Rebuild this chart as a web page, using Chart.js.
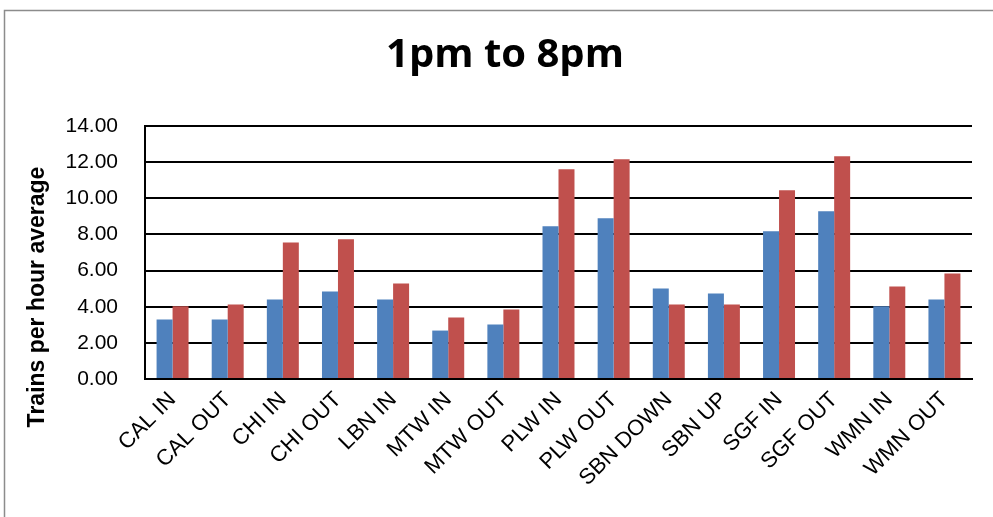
<!DOCTYPE html>
<html>
<head>
<meta charset="utf-8">
<script src="https://cdn.jsdelivr.net/npm/chart.js@4.4.1/dist/chart.umd.min.js"></script>
<style>
  html, body { margin: 0; padding: 0; background: #fff; }
  #wrap { position: relative; width: 993px; height: 517px; }
</style>
</head>
<body>
<div id="wrap"><canvas id="chart1" width="993" height="517"></canvas></div>
<script>
// categories and values
var categories = ["CAL IN", "CAL OUT", "CHI IN", "CHI OUT", "LBN IN", "MTW IN", "MTW OUT",
                  "PLW IN", "PLW OUT", "SBN DOWN", "SBN UP", "SGF IN", "SGF OUT", "WMN IN", "WMN OUT"];
var blueValues = [3.29, 3.29, 4.40, 4.84, 4.40, 2.68, 3.01, 8.45, 8.89, 5.01, 4.73, 8.17, 9.28, 4.03, 4.40];
var redValues  = [4.03, 4.12, 7.56, 7.73, 5.29, 3.40, 3.84, 11.61, 12.16, 4.12, 4.12, 10.44, 12.33, 5.12, 5.84];
var titleText = "1pm to 8pm";
var yTitleText = "Trains per hour average";

// outer frame + rotated y title
var framePlugin = {
    id: 'frame',
    beforeDraw: function(chart) {
        var ctx = chart.ctx;
        ctx.save();
        ctx.fillStyle = "#fff";
        ctx.fillRect(0, 0, chart.width, chart.height);
        ctx.strokeStyle = "#8c8c8c";
        ctx.lineWidth = 1.5;
        ctx.strokeRect(4.5, 10.5, 1100, 700);
        ctx.restore();
    },
    afterDraw: function(chart) {
        var ctx = chart.ctx;
        ctx.save();
        ctx.translate(38, 297);
        ctx.rotate(-Math.PI / 2);
        ctx.font = "bold 23px 'Liberation Sans', Arial, sans-serif";
        ctx.fillStyle = "#000";
        ctx.textAlign = "center";
        ctx.textBaseline = "middle";
        ctx.fillText(yTitleText, 0, 0);
        ctx.restore();
    }
};

new Chart(document.getElementById('chart1'), {
    type: 'bar',
    data: {
        labels: categories,
        datasets: [{
            data: blueValues,
            backgroundColor: "#4F81BD",
            barPercentage: 1,
            categoryPercentage: 0.58
        }, {
            data: redValues,
            backgroundColor: "#C0504D",
            barPercentage: 1,
            categoryPercentage: 0.58
        }]
    },
    options: {
        responsive: false,
        animation: false,
        layout: { padding: { left: 38, right: 21, top: 0, bottom: 0 } },
        plugins: {
            legend: { display: false },
            tooltip: { enabled: false },
            title: {
                display: true,
                text: titleText,
                color: "#000",
                font: { family: "'Open Sans', 'Liberation Sans', sans-serif", size: 40, weight: 'bold' },
                padding: { top: 32, bottom: 46 }
            }
        },
        scales: {
            x: {
                grid: { display: false, drawTicks: false },
                border: { display: true, color: "#000", width: 2 },
                ticks: {
                    color: "#000",
                    font: { family: "'Liberation Sans', Arial, sans-serif", size: 22 },
                    maxRotation: 45,
                    minRotation: 45,
                    autoSkip: false,
                    padding: 8
                },
                afterFit: function(scale) { scale.height = 138; }
            },
            y: {
                min: 0,
                max: 14,
                ticks: {
                    stepSize: 2,
                    color: "#000",
                    padding: 27,
                    font: { family: "'Liberation Sans', Arial, sans-serif", size: 21 },
                    callback: function(v) { return v.toFixed(2); }
                },
                grid: { color: "#000", lineWidth: 2, drawTicks: false },
                border: { display: true, color: "#000", width: 2 },
                afterFit: function(scale) { scale.width = 107; }
            }
        }
    },
    plugins: [framePlugin]
});
</script>
</body>
</html>
